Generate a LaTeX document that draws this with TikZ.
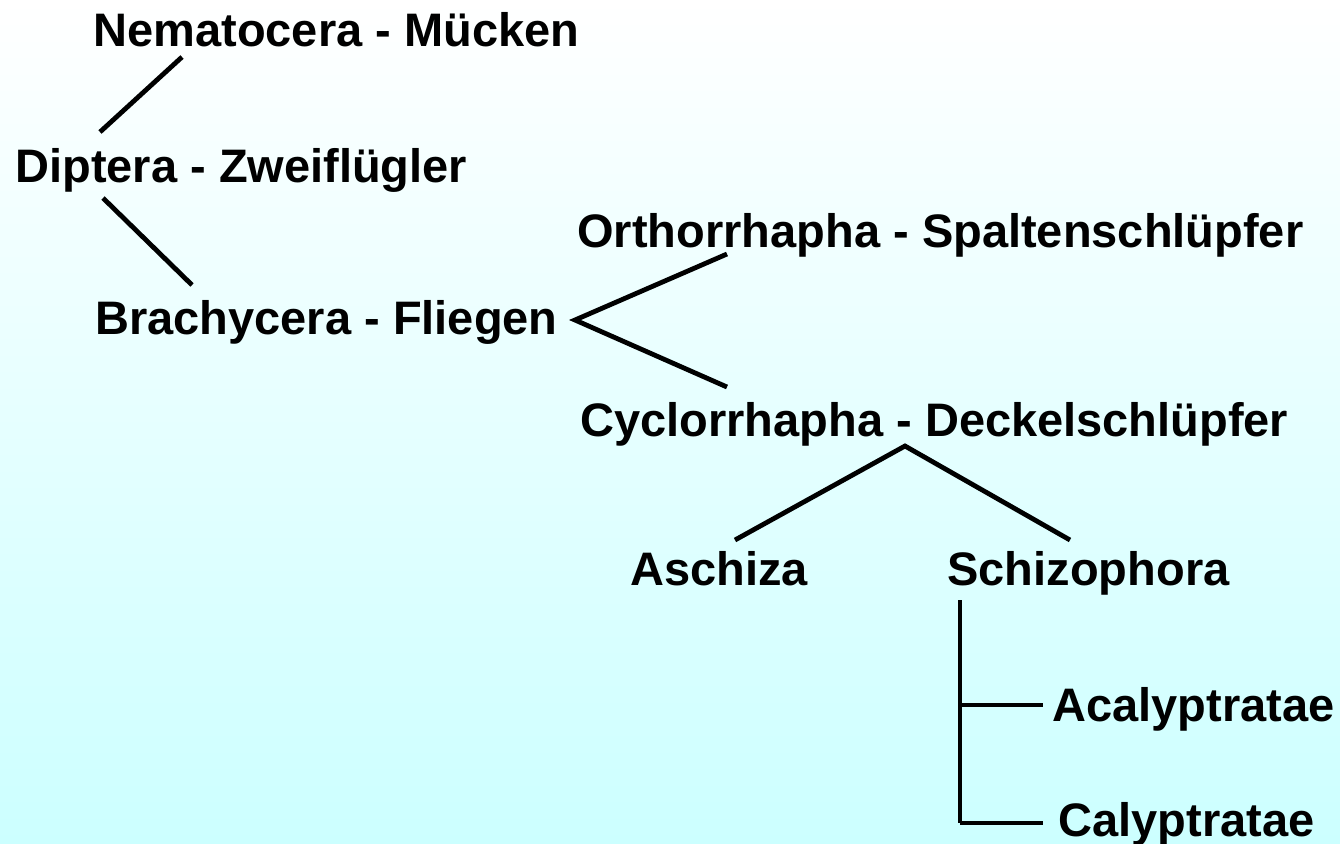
\documentclass[tikz,border=0pt]{standalone}
\usepackage{fontspec}
\setmainfont{Liberation Sans}
\usetikzlibrary{positioning}
\definecolor{Ink}{HTML}{000000}
\definecolor{SkyTop}{HTML}{FFFFFF}
\definecolor{SkyLow}{HTML}{CCFFFF}
\tikzset{
  taxon/.style={anchor=base west,inner sep=0pt,font=\fontsize{23.5}{28}\selectfont\bfseries,text=Ink},
  branch/.style={draw=Ink,line width=2.4pt}
}
\begin{document}
\begin{tikzpicture}[x=0.5pt,y=-0.5pt]
  \shade[top color=SkyTop,bottom color=SkyLow] (0,0) rectangle (1340,843);
  \useasboundingbox (0,0) rectangle (1340,843);
  % taxa
  \node[taxon] (nema) at (93,46) {Nematocera - Mücken};
  \node[taxon] (dipt) at (15,182) {Diptera - Zweiflügler};
  \node[taxon] (brach) at (95,334) {Brachycera - Fliegen};
  \node[taxon] (ortho) at (577,247) {Orthorrhapha - Spaltenschlüpfer};
  \node[taxon] (cyclo) at (580,436) {Cyclorrhapha - Deckelschlüpfer};
  \node[taxon] (aschi) at (630,585) {Aschiza};
  \node[taxon] (schizo) at (947,585) {Schizophora};
  \node[taxon] (acaly) at (1052,721) {Acalyptratae};
  \node[taxon] (calyp) at (1058,836) {Calyptratae};
  % line ends
  \coordinate (nemaE) at (182,57);
  \coordinate (diptN) at (100,132);
  \coordinate (diptS) at (103,198);
  \coordinate (brachN) at (192,285);
  \coordinate (brachE) at (575,320);
  \coordinate (orthoS) at (727,254);
  \coordinate (cycloN) at (727,387);
  \coordinate (cycloS) at (905,446);
  \coordinate (aschiN) at (735,540);
  \coordinate (schizoN) at (1070,540);
  \coordinate (schizoS) at (960,600);
  \coordinate (acalyJ) at (960,705);
  \coordinate (acalyW) at (1043,705);
  \coordinate (calypJ) at (960,823);
  \coordinate (calypW) at (1043,823);
  % connectors
  \draw[branch] (nemaE) -- (diptN);
  \draw[branch] (diptS) -- (brachN);
  \draw[branch] (orthoS) -- (brachE) -- (cycloN);
  \draw[branch] (aschiN) -- (cycloS) -- (schizoN);
  \draw[branch] (schizoS) -- (calypJ);
  \draw[branch] (acalyJ) -- (acalyW);
  \draw[branch] (calypJ) -- (calypW);
\end{tikzpicture}
\end{document}
